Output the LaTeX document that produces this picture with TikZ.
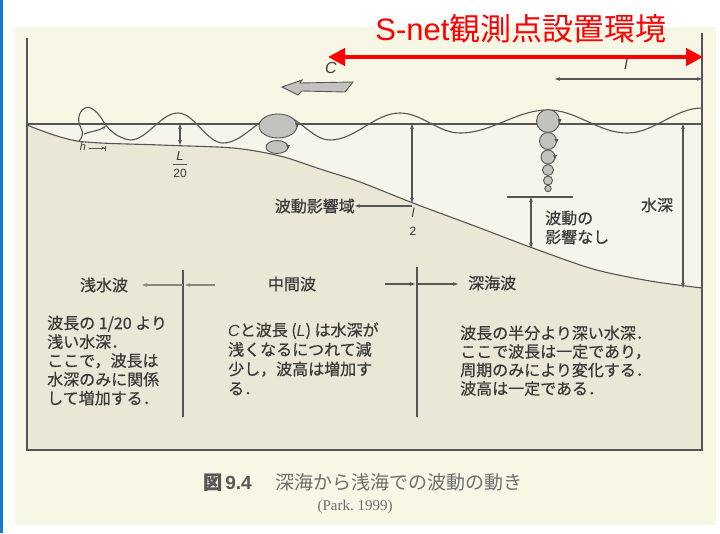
\documentclass[tikz,border=0pt]{standalone}
\usepackage{fontspec}
\setmainfont{Liberation Sans}
\newfontfamily\jp[FakeBold=0.6]{Noto Sans CJK JP}
\newfontfamily\jpcap{Noto Sans CJK JP}
\newfontfamily\capserif{Liberation Serif}
\usetikzlibrary{arrows.meta}

\definecolor{pagec}{HTML}{F8F7E6}
\definecolor{waterc}{HTML}{F6F5EC}
\definecolor{groundc}{HTML}{EBE7D7}
\definecolor{inkc}{HTML}{555555}
\definecolor{txtc}{HTML}{3A3A3A}
\definecolor{capc}{HTML}{6E6E6E}
\definecolor{orbc}{HTML}{C2C2BE}
\definecolor{netred}{HTML}{FF0000}
\definecolor{edgeblue}{HTML}{1778D4}

\newcommand{\latit}[1]{{\normalfont\itshape #1}}

\begin{document}
\begin{tikzpicture}[x=1pt,y=-1pt,
  ink/.style={draw=inkc, line width=1.1pt},
  dim/.style={ink, {Stealth[length=5pt,width=3.6pt]}-{Stealth[length=5pt,width=3.6pt]}},
  tipl/.style={ink, -{Stealth[length=5pt,width=3.6pt]}},
  jtxt/.style={font=\jp\fontsize{16}{19}\selectfont, text=txtc, inner sep=0pt},
  lab/.style={font=\fontsize{13}{15}\selectfont\itshape, text=txtc, inner sep=0pt},
  num/.style={font=\fontsize{12}{14}\selectfont, text=txtc, inner sep=0pt},
  orb/.style={draw=inkc, line width=0.9pt, fill=orbc},
  orbtip/.style={fill=inkc},
]
% canvas, page and left edge
\useasboundingbox (0,0) rectangle (720,533);
\fill[white] (0,0) rectangle (720,533);
\fill[pagec] (15,27) rectangle (716,525);
\fill[edgeblue] (0,0) rectangle (2.5,533);

% water and ground
\fill[waterc] (27,124) rectangle (702,450);
\fill[groundc] plot[smooth, tension=0.5] coordinates {(27,125) (77,141) (160,145) (233,148) (280,156) (320,169) (360,182) (413,203) (480,228) (530,247) (593,269) (650,281) (702,288)} -- (702,450) -- (27,450) -- cycle;
\draw[ink] plot[smooth, tension=0.5] coordinates {(27,125) (77,141) (160,145) (233,148) (280,156) (320,169) (360,182) (413,203) (480,228) (530,247) (593,269) (650,281) (702,288)};

% frame
\coordinate (fl) at (27,38);
\coordinate (fbl) at (27,450);
\coordinate (fbr) at (702,450);
\coordinate (fr) at (702,33);
\draw[ink, line width=1.4pt] (fl) -- (fbl) -- (fbr) -- (fr);

% still water level
\coordinate (sl) at (27,124);
\coordinate (sr) at (702,124);
\draw[ink] (sl) -- (sr);

% surface wave, shortening and steepening towards the shore
\draw[ink] (702,108) cos (664.5,120.5) sin (627,133) cos (587.5,121.5) sin (548,110)
  cos (504,121.5) sin (460,133) cos (430,123) sin (400,113) cos (365,126.5) sin (330,140)
  cos (305,127.5) sin (280,115) cos (251.5,129) sin (223,143) cos (200.5,128) sin (178,113)
  cos (154,126.5) sin (130,140)
  .. controls (118,138) and (110,131) .. (105,124)
  .. controls (99,113) and (91,105) .. (85,108)
  .. controls (78,112) and (77,121) .. (81,128)
  .. controls (84,133) and (82,138) .. (79,141);
\draw[ink, -{Stealth[length=4pt,width=3pt]}] (84,134) .. controls (91,131) and (99,131) .. (106,126);

% breaking depth mark
\node[lab, font=\fontsize{11}{12}\selectfont\itshape] (hmark) at (83,147) {h};
\coordinate (hs) at (89,148);
\coordinate (he) at (106,148);
\draw[ink, line width=0.8pt, -{Stealth[length=4pt,width=3pt]Bar[width=5pt]}] (hs) -- (he);

% orbital motion at the shallow crest
\draw[orb] (278,126) ellipse [x radius=19, y radius=12];
\draw[orb] (277,147) ellipse [x radius=11, y radius=6.5];
\fill[orbtip] (295,123) -- (299,123) -- (297,128) -- cycle;
\fill[orbtip] (286,145) -- (290,145) -- (288,149) -- cycle;

% orbital motion in deep water
\draw[orb] (548,121) circle [radius=11.5];
\draw[orb] (548,141) circle [radius=8.5];
\draw[orb] (548,157) circle [radius=7];
\draw[orb] (548,170) circle [radius=5.5];
\draw[orb] (548,180.5) circle [radius=4.5];
\draw[orb] (548,188.5) circle [radius=3.2];
\fill[orbtip] (557.5,119) -- (561.5,119) -- (559.5,124) -- cycle;
\fill[orbtip] (554.5,139) -- (558.5,139) -- (556.5,143) -- cycle;
\fill[orbtip] (553,155) -- (557,155) -- (555,159) -- cycle;

% L/20 depth
\coordinate (d1t) at (180,124);
\coordinate (d1b) at (180,145);
\draw[dim] (d1t) -- (d1b);
\node[lab] (Lnum) at (180,156) {L};
\coordinate (Lbarl) at (173,164);
\coordinate (Lbarr) at (187,164);
\draw[ink, line width=0.8pt] (Lbarl) -- (Lbarr);
\node[num] (Lden) at (180,173) {20};

% l/2 depth and zone of wave influence
\coordinate (d2t) at (412,124);
\coordinate (d2b) at (412,203);
\draw[dim] (d2t) -- (d2b);
\node[lab] (lnum) at (413,213) {l};
\node[num] (lden) at (413,231) {2};
\coordinate (zs) at (412,206);
\node[jtxt, anchor=east] (zone) at (355,206) {波動影響域};
\draw[tipl] (zs) -- (zone.east);

% no wave influence
\coordinate (nl) at (507,197);
\coordinate (nr) at (573,197);
\draw[ink] (nl) -- (nr);
\coordinate (n1t) at (531,197);
\coordinate (n1b) at (531,248);
\draw[dim] (n1t) -- (n1b);
\node[jtxt, anchor=base west] (none1) at (545,224) {波動の};
\node[jtxt, anchor=base west] (none2) at (545,243) {影響なし};

% water depth
\coordinate (d3t) at (683,124);
\coordinate (d3b) at (683,288);
\draw[dim] (d3t) -- (d3b);
\node[jtxt] (depth) at (657,205) {水深};

% wavelength and celerity
\coordinate (wl) at (555,79);
\coordinate (wr) at (702,79);
\draw[dim] (wl) -- (wr);
\node[lab, font=\fontsize{15}{16}\selectfont\itshape] (ltext) at (626,64) {l};
\node[lab, font=\fontsize{16}{17}\selectfont\itshape] (ctext) at (331,68) {C};
\draw[ink, line width=0.9pt, fill=orbc] (282,87) -- (302,80) -- (300,83) -- (353,82) -- (345,92) -- (302,91) -- (298,95) -- cycle;

% zone dividers
\coordinate (v1t) at (183,270);
\coordinate (v1b) at (183,417);
\coordinate (v2t) at (417,267);
\coordinate (v2b) at (417,417);
\draw[ink] (v1t) -- (v1b);
\draw[ink] (v2t) -- (v2b);

\node[jtxt] (shallow) at (104,285) {浅水波};
\node[jtxt] (inter) at (292,284) {中間波};
\node[jtxt, anchor=west] (deep) at (468,283) {深海波};
\coordinate (s1) at (215,285);
\coordinate (s1m) at (185,285);
\coordinate (s1x) at (183,285);
\coordinate (s1l) at (142,285);
\draw[tipl, draw=inkc!70] (s1) -- (s1m);
\draw[tipl, draw=inkc!70] (s1x) -- (s1l);
\coordinate (s2) at (385,284);
\coordinate (s2m) at (415,284);
\coordinate (s2x) at (417,284);
\coordinate (s2r) at (458,284);
\draw[tipl] (s2) -- (s2m);
\draw[tipl] (s2x) -- (s2r);

% descriptions
\foreach \t [count=\i] in {波長の 1/20 より, 浅い水深．, ここで，波長は, 水深のみに関係, して増加する．}
  \node[jtxt, anchor=base west] (shallowtxt\i) at (47,{329+(\i-1)*18.8}) {\t};
\foreach \t [count=\i] in {{\latit{C}}と波長 ({\latit{L}}) は水深が, 浅くなるにつれて減, 少し，波高は増加す, る．}
  \node[jtxt, anchor=base west] (intertxt\i) at (228,{336+(\i-1)*19.5}) {\t};
\foreach \t [count=\i] in {波長の半分より深い水深．, ここで波長は一定であり，, 周期のみにより変化する．, 波高は一定である．}
  \node[jtxt, anchor=base west] (deeptxt\i) at (460,{339+(\i-1)*18.5}) {\t};

% caption
\node[inner sep=0pt, text=txtc!85, anchor=base west] (fignum) at (203,489) {\fontsize{19}{20}\selectfont\bfseries{\jp 図}\,9.4};
\node[inner sep=0pt, text=capc, anchor=base west] (figcap) at (275,489) {\jpcap\fontsize{19}{20}\selectfont 深海から浅海での波動の動き};
\node[inner sep=0pt, text=capc] (figsrc) at (355,507) {\capserif\fontsize{15}{16}\selectfont (Park.\ 1999)};

% S-net annotation
\node[inner sep=0pt, text=netred] (title) at (521,29) {\fontsize{31}{32}\selectfont S-net{\jpcap 観測点設置環境}};
\coordinate (rl) at (328,57);
\coordinate (rr) at (703,57);
\draw[netred, line width=4.5pt, {Triangle[length=17pt,width=17pt]}-{Triangle[length=17pt,width=17pt]}] (rl) -- (rr);
\end{tikzpicture}
\end{document}
